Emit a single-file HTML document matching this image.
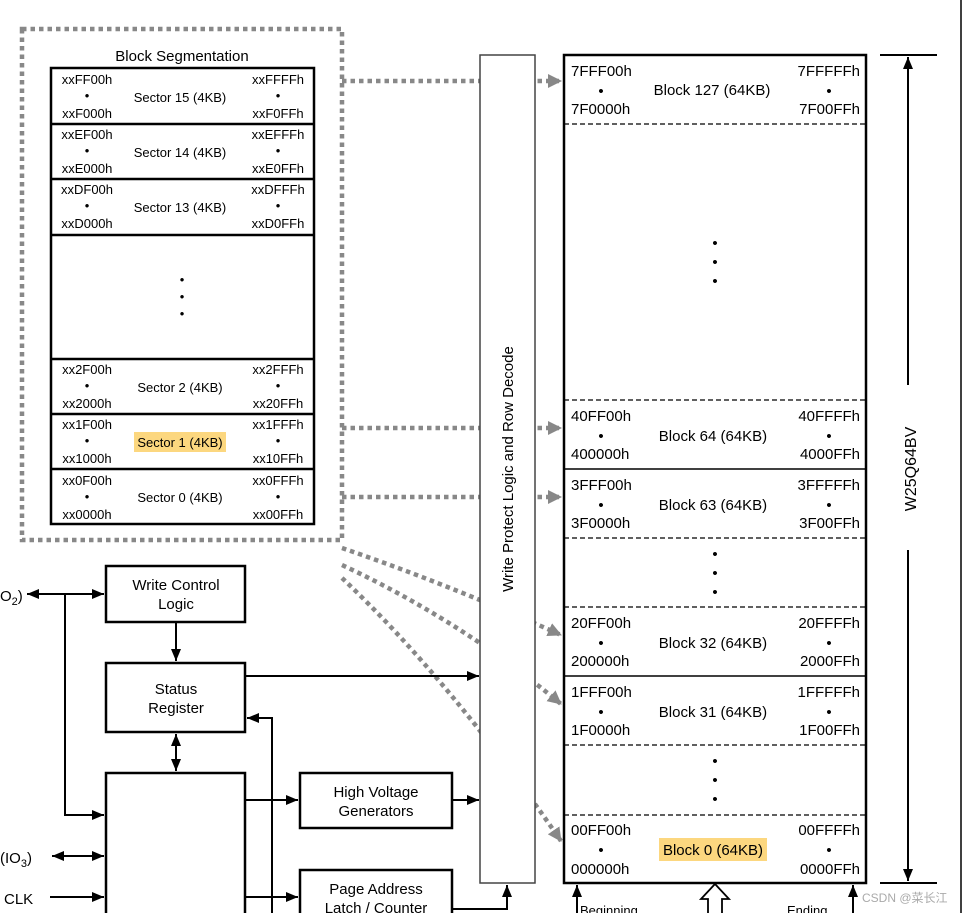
<!DOCTYPE html>
<html><head><meta charset="utf-8"><style>
html,body{margin:0;padding:0;background:#fff;}
svg{display:block;font-family:"Liberation Sans",Arial,sans-serif;}
</style></head><body>
<svg width="977" height="913" viewBox="0 0 977 913" xmlns="http://www.w3.org/2000/svg">
<defs>
<marker id="ga" markerWidth="14" markerHeight="14" refX="13" refY="7" orient="auto" markerUnits="userSpaceOnUse"><path d="M0,0 L14,7 L0,14 z" fill="#888"/></marker>
<marker id="ba" markerWidth="12" markerHeight="12" refX="12" refY="6" orient="auto" markerUnits="userSpaceOnUse"><path d="M0,1 L12,6 L0,11 z" fill="#000"/></marker>
<marker id="bs" markerWidth="12" markerHeight="12" refX="0" refY="6" orient="auto" markerUnits="userSpaceOnUse"><path d="M12,1 L0,6 L12,11 z" fill="#000"/></marker>
</defs>

<g stroke="#888" stroke-width="4.5" stroke-dasharray="4.5,4" fill="none">
<rect x="22" y="29" width="320" height="511"/>
<line x1="342" y1="81" x2="561" y2="81" marker-end="url(#ga)"/>
<line x1="342" y1="428" x2="561" y2="428" marker-end="url(#ga)"/>
<line x1="342" y1="497" x2="561" y2="497" marker-end="url(#ga)"/>
<path d="M342,548 Q450,585 561,635" marker-end="url(#ga)"/>
<path d="M342,565 Q460,620 561,704" marker-end="url(#ga)"/>
<path d="M342,578 Q450,680 561,841" marker-end="url(#ga)"/>
</g>

<text x="182" y="61" font-size="15" text-anchor="middle">Block Segmentation</text>
<g stroke="#000" stroke-width="2.5" fill="none">
<rect x="51" y="68" width="263" height="456"/>
<line x1="51" y1="124" x2="314" y2="124"/>
<line x1="51" y1="179" x2="314" y2="179"/>
<line x1="51" y1="235" x2="314" y2="235"/>
<line x1="51" y1="359" x2="314" y2="359"/>
<line x1="51" y1="414" x2="314" y2="414"/>
<line x1="51" y1="469" x2="314" y2="469"/>
</g>
<rect x="134" y="432" width="92" height="20" fill="#fcd77f"/>
<g font-size="13" text-anchor="middle">
<text x="87" y="84">xxFF00h</text><text x="87" y="100">•</text><text x="87" y="118">xxF000h</text>
<text x="278" y="84">xxFFFFh</text><text x="278" y="100">•</text><text x="278" y="118">xxF0FFh</text>
<text x="180" y="102">Sector 15 (4KB)</text>
<text x="87" y="139">xxEF00h</text><text x="87" y="155">•</text><text x="87" y="173">xxE000h</text>
<text x="278" y="139">xxEFFFh</text><text x="278" y="155">•</text><text x="278" y="173">xxE0FFh</text>
<text x="180" y="157">Sector 14 (4KB)</text>
<text x="87" y="194">xxDF00h</text><text x="87" y="210">•</text><text x="87" y="228">xxD000h</text>
<text x="278" y="194">xxDFFFh</text><text x="278" y="210">•</text><text x="278" y="228">xxD0FFh</text>
<text x="180" y="212">Sector 13 (4KB)</text>
<text x="182" y="284">•</text><text x="182" y="301">•</text><text x="182" y="318">•</text>
<text x="87" y="374">xx2F00h</text><text x="87" y="390">•</text><text x="87" y="408">xx2000h</text>
<text x="278" y="374">xx2FFFh</text><text x="278" y="390">•</text><text x="278" y="408">xx20FFh</text>
<text x="180" y="392">Sector 2 (4KB)</text>
<text x="87" y="429">xx1F00h</text><text x="87" y="445">•</text><text x="87" y="463">xx1000h</text>
<text x="278" y="429">xx1FFFh</text><text x="278" y="445">•</text><text x="278" y="463">xx10FFh</text>
<text x="180" y="447">Sector 1 (4KB)</text>
<text x="87" y="485">xx0F00h</text><text x="87" y="501">•</text><text x="87" y="519">xx0000h</text>
<text x="278" y="485">xx0FFFh</text><text x="278" y="501">•</text><text x="278" y="519">xx00FFh</text>
<text x="180" y="502">Sector 0 (4KB)</text>
</g>

<rect x="480" y="55" width="55" height="828" fill="#fff" stroke="#444" stroke-width="1.5"/>
<text transform="translate(513,469) rotate(-90)" font-size="15" text-anchor="middle">Write Protect Logic and Row Decode</text>

<g stroke="#000" fill="none">
<rect x="564" y="55" width="302" height="828" stroke-width="2.5"/>
<g stroke-width="1.2" stroke-dasharray="5,3">
<line x1="564" y1="124" x2="866" y2="124"/>
<line x1="564" y1="400" x2="866" y2="400"/>
<line x1="564" y1="538" x2="866" y2="538"/>
<line x1="564" y1="607" x2="866" y2="607"/>
<line x1="564" y1="745" x2="866" y2="745"/>
<line x1="564" y1="815" x2="866" y2="815"/>
</g>
<line x1="564" y1="469" x2="866" y2="469" stroke-width="1.5"/>
<line x1="564" y1="676" x2="866" y2="676" stroke-width="1.5"/>
</g>
<rect x="659" y="838" width="108" height="23" fill="#fcd77f"/>
<g font-size="15">
<g text-anchor="start">
<text x="571" y="76">7FFF00h</text><text x="571" y="114">7F0000h</text>
<text x="571" y="421">40FF00h</text><text x="571" y="459">400000h</text>
<text x="571" y="490">3FFF00h</text><text x="571" y="528">3F0000h</text>
<text x="571" y="628">20FF00h</text><text x="571" y="666">200000h</text>
<text x="571" y="697">1FFF00h</text><text x="571" y="735">1F0000h</text>
<text x="571" y="835">00FF00h</text><text x="571" y="874">000000h</text>
</g>
<g text-anchor="end">
<text x="860" y="76">7FFFFFh</text><text x="860" y="114">7F00FFh</text>
<text x="860" y="421">40FFFFh</text><text x="860" y="459">4000FFh</text>
<text x="860" y="490">3FFFFFh</text><text x="860" y="528">3F00FFh</text>
<text x="860" y="628">20FFFFh</text><text x="860" y="666">2000FFh</text>
<text x="860" y="697">1FFFFFh</text><text x="860" y="735">1F00FFh</text>
<text x="860" y="835">00FFFFh</text><text x="860" y="874">0000FFh</text>
</g>
<g text-anchor="middle">
<text x="601" y="96">•</text><text x="829" y="96">•</text><text x="712" y="95">Block 127 (64KB)</text>
<text x="601" y="441">•</text><text x="829" y="441">•</text><text x="713" y="441">Block 64 (64KB)</text>
<text x="601" y="510">•</text><text x="829" y="510">•</text><text x="713" y="510">Block 63 (64KB)</text>
<text x="601" y="648">•</text><text x="829" y="648">•</text><text x="713" y="648">Block 32 (64KB)</text>
<text x="601" y="717">•</text><text x="829" y="717">•</text><text x="713" y="717">Block 31 (64KB)</text>
<text x="601" y="855">•</text><text x="829" y="855">•</text><text x="713" y="855">Block 0 (64KB)</text>
<text x="715" y="248">•</text><text x="715" y="267">•</text><text x="715" y="286">•</text>
<text x="715" y="559">•</text><text x="715" y="578">•</text><text x="715" y="597">•</text>
<text x="715" y="766">•</text><text x="715" y="785">•</text><text x="715" y="804">•</text>
</g>
</g>

<g stroke="#000" stroke-width="2" fill="none">
<line x1="880" y1="55" x2="937" y2="55"/>
<line x1="880" y1="883" x2="937" y2="883"/>
<line x1="908" y1="385" x2="908" y2="57" marker-end="url(#ba)"/>
<line x1="908" y1="550" x2="908" y2="881" marker-end="url(#ba)"/>
<line x1="961" y1="0" x2="961" y2="913" stroke-width="1.5"/>
</g>
<text transform="translate(916,469) rotate(-90)" font-size="16" text-anchor="middle">W25Q64BV</text>

<g stroke="#000" stroke-width="2" fill="none">
<line x1="577" y1="913" x2="577" y2="885" marker-end="url(#ba)"/>
<line x1="853" y1="913" x2="853" y2="885" marker-end="url(#ba)"/>
<path d="M708,913 L708,899 L701,899 L715,884 L729,899 L722,899 L722,913" stroke-width="1.8"/>
</g>
<text x="580" y="915" font-size="13">Beginning</text>
<text x="787" y="915" font-size="13">Ending</text>
<text x="862" y="902" font-size="12" fill="#aaa">CSDN @菜长江</text>

<g stroke="#000" stroke-width="2.5" fill="#fff">
<rect x="106" y="566" width="139" height="56"/>
<rect x="106" y="663" width="139" height="69"/>
<rect x="106" y="773" width="139" height="160"/>
<rect x="300" y="773" width="152" height="55"/>
<rect x="300" y="870" width="152" height="60"/>
</g>
<g font-size="15" text-anchor="middle">
<text x="176" y="590">Write Control</text><text x="176" y="609">Logic</text>
<text x="176" y="694">Status</text><text x="176" y="713">Register</text>
<text x="376" y="797">High Voltage</text><text x="376" y="816">Generators</text>
<text x="376" y="894">Page Address</text><text x="376" y="913">Latch / Counter</text>
<text x="0" y="601" text-anchor="start">O<tspan font-size="11" dy="4">2</tspan><tspan dy="-4">)</tspan></text>
<text x="0" y="863" text-anchor="start">(IO<tspan font-size="11" dy="4">3</tspan><tspan dy="-4">)</tspan></text>
<text x="4" y="904" text-anchor="start">CLK</text>
</g>
<g stroke="#000" stroke-width="2" fill="none">
<line x1="27" y1="594" x2="104" y2="594" marker-start="url(#bs)" marker-end="url(#ba)"/>
<polyline points="65,594 65,815 104,815" marker-end="url(#ba)"/>
<line x1="52" y1="856" x2="104" y2="856" marker-start="url(#bs)" marker-end="url(#ba)"/>
<line x1="50" y1="897" x2="104" y2="897" marker-end="url(#ba)"/>
<line x1="176" y1="622" x2="176" y2="661" marker-end="url(#ba)"/>
<line x1="176" y1="734" x2="176" y2="771" marker-start="url(#bs)" marker-end="url(#ba)"/>
<line x1="245" y1="676" x2="479" y2="676" marker-end="url(#ba)"/>
<polyline points="272,913 272,718 247,718" marker-end="url(#ba)"/>
<line x1="245" y1="800" x2="298" y2="800" marker-end="url(#ba)"/>
<line x1="452" y1="800" x2="479" y2="800" marker-end="url(#ba)"/>
<line x1="245" y1="897" x2="298" y2="897" marker-end="url(#ba)"/>
<polyline points="452,909 507,909 507,885" marker-end="url(#ba)"/>
</g>
</svg>
</body></html>
